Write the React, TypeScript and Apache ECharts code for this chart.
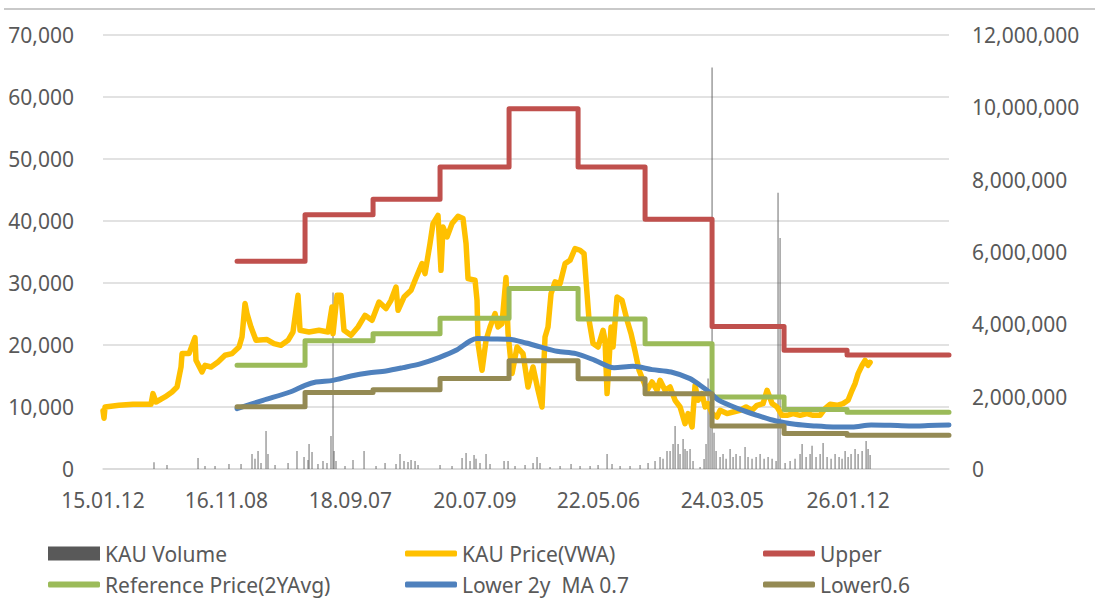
import React, { useEffect, useRef } from "react";
import * as echarts from "echarts";

// X axis: decimal years (date axis of the original chart)
const tickYears = [2015.0301, 2016.8525, 2018.6822, 2020.5191, 2022.3425, 2024.1749, 2026.0301];
const tickLabels = ["15.01.12", "16.11.08", "18.09.07", "20.07.09", "22.05.06", "24.03.05", "26.01.12"];
const axisEndYear = 2027.52;

// Yearly step lines
const stepYears = [2017.009, 2018.013, 2019.017, 2020.006, 2021.025, 2022.044, 2023.033, 2024.022, 2025.085, 2026.015, 2027.52];
const upperValues = [33500, 41000, 43500, 48700, 58100, 48700, 40300, 23000, 19150, 18400];
const referenceValues = [16750, 20700, 21800, 24300, 29100, 24200, 20200, 11600, 9600, 9150];
const lower06Values = [10050, 12350, 12800, 14580, 17450, 14550, 12150, 6950, 5720, 5460];

// KAU Price (VWA)
const priceYears = [
  2015.030, 2015.045, 2015.060, 2015.266, 2015.473, 2015.739, 2015.768, 2015.813, 2015.945, 2016.049,
  2016.123, 2016.182, 2016.197, 2016.300, 2016.388, 2016.403, 2016.492, 2016.536, 2016.625, 2016.728,
  2016.831, 2016.935, 2017.038, 2017.082, 2017.127, 2017.156, 2017.215, 2017.289, 2017.452, 2017.555,
  2017.658, 2017.762, 2017.835, 2017.909, 2017.939, 2018.072, 2018.219, 2018.352, 2018.411, 2018.426,
  2018.485, 2018.544, 2018.588, 2018.692, 2018.795, 2018.898, 2019.002, 2019.105, 2019.208, 2019.282,
  2019.356, 2019.386, 2019.474, 2019.578, 2019.637, 2019.740, 2019.784, 2019.858, 2019.902, 2019.976,
  2020.020, 2020.050, 2020.109, 2020.183, 2020.272, 2020.345, 2020.390, 2020.419, 2020.523, 2020.552,
  2020.567, 2020.626, 2020.685, 2020.744, 2020.818, 2020.862, 2020.921, 2020.980, 2021.010, 2021.069,
  2021.143, 2021.231, 2021.305, 2021.379, 2021.453, 2021.512, 2021.556, 2021.600, 2021.645, 2021.704,
  2021.778, 2021.852, 2021.925, 2021.999, 2022.073, 2022.132, 2022.176, 2022.206, 2022.265, 2022.339,
  2022.413, 2022.442, 2022.472, 2022.531, 2022.560, 2022.619, 2022.693, 2022.767, 2022.826, 2022.885,
  2022.944, 2023.003, 2023.062, 2023.136, 2023.210, 2023.254, 2023.328, 2023.402, 2023.476, 2023.550,
  2023.623, 2023.668, 2023.727, 2023.771, 2023.815, 2023.874, 2023.919, 2023.963, 2024.022, 2024.096,
  2024.140, 2024.243, 2024.332, 2024.435, 2024.524, 2024.612, 2024.686, 2024.775, 2024.834, 2024.908,
  2024.982, 2025.055, 2025.129, 2025.218, 2025.321, 2025.424, 2025.513, 2025.616, 2025.690, 2025.764,
  2025.867, 2025.956, 2026.030, 2026.089, 2026.133, 2026.178, 2026.237, 2026.281, 2026.325, 2026.355,
];
const priceValues = [
  9400, 8200, 10000, 10270, 10430, 10430, 12160, 10810, 11620, 12420,
  13230, 16450, 18610, 18610, 21190, 17530, 15650, 16730, 16450, 17260,
  18340, 18610, 19680, 21290, 26680, 25060, 22900, 20760, 20870, 20230,
  19950, 20760, 22100, 28020, 22370, 22100, 22370, 22100, 26130, 21840,
  28020, 28020, 22370, 21570, 22900, 24790, 23990, 26940, 25870, 27210,
  29360, 25600, 27740, 28820, 30440, 33130, 31520, 36360, 39580, 40920,
  32050, 39040, 37420, 39580, 40760, 40390, 36360, 30710, 30440, 27210,
  20230, 15920, 20760, 22900, 25060, 22900, 23450, 30870, 21840, 15390,
  19680, 18610, 13230, 16450, 12690, 10000, 21290, 22900, 28290, 30170,
  29900, 33130, 33660, 35550, 35280, 34740, 28290, 23990, 20230, 19680,
  22370, 20760, 12160, 22900, 19680, 27740, 27210, 24000, 21840, 19000,
  15920, 14310, 12690, 14030, 12690, 14310, 12690, 13230, 11080, 10000,
  7320, 8940, 6780, 13500, 11080, 12160, 10000, 10550, 8940, 8390,
  9470, 8940, 9190, 9470, 10000, 9470, 10270, 10550, 12690, 10550,
  10000, 8660, 8660, 8940, 8660, 8940, 8660, 8660, 9740, 10430,
  10270, 10550, 11080, 12690, 13770, 15390, 16730, 17530, 16730, 17200,
];

// Lower 2y MA 0.7
const maYears = [
  2017.009, 2017.392, 2017.791, 2018.013, 2018.175, 2018.426, 2018.692, 2018.943, 2019.208, 2019.460,
  2019.725, 2019.991, 2020.242, 2020.449, 2020.552, 2020.759, 2021.025, 2021.276, 2021.482, 2021.733,
  2022.014, 2022.294, 2022.575, 2022.855, 2023.136, 2023.417, 2023.697, 2023.845, 2023.978, 2024.125,
  2024.406, 2024.686, 2024.967, 2025.247, 2025.528, 2025.808, 2026.089, 2026.370, 2026.650, 2026.931,
  2027.211, 2027.52,
];
const maValues = [
  9740, 11080, 12420, 13500, 14030, 14300, 15000, 15490, 15810, 16350,
  17000, 17970, 19150, 20650, 21030, 20970, 20920, 20320, 19700, 19000,
  18610, 17530, 16350, 16560, 16030, 15650, 14580, 13500, 12420, 11080,
  9740, 8660, 7740, 7210, 6940, 6780, 6780, 7100, 7050, 6940,
  7000, 7100,
];

// KAU Volume
const volumeYears = [
  2015.783, 2015.975, 2016.433, 2016.536, 2016.684, 2016.890, 2017.068, 2017.230, 2017.274, 2017.319,
  2017.363, 2017.437, 2017.466, 2017.570, 2017.762, 2017.894, 2017.998, 2018.057, 2018.072, 2018.116,
  2018.204, 2018.278, 2018.337, 2018.396, 2018.426, 2018.441, 2018.470, 2018.603, 2018.721, 2018.884,
  2019.061, 2019.194, 2019.356, 2019.415, 2019.474, 2019.533, 2019.578, 2019.637, 2019.681, 2020.006,
  2020.183, 2020.331, 2020.390, 2020.449, 2020.508, 2020.537, 2020.596, 2020.685, 2020.744, 2020.951,
  2021.010, 2021.113, 2021.261, 2021.379, 2021.438, 2021.482, 2021.630, 2021.778, 2021.940, 2022.073,
  2022.221, 2022.339, 2022.472, 2022.545, 2022.664, 2022.811, 2022.959, 2023.077, 2023.180, 2023.254,
  2023.298, 2023.357, 2023.402, 2023.446, 2023.476, 2023.520, 2023.549, 2023.594, 2023.623, 2023.653,
  2023.697, 2023.741, 2023.845, 2023.904, 2023.933, 2023.963, 2023.992, 2024.022, 2024.051, 2024.081,
  2024.140, 2024.184, 2024.229, 2024.288, 2024.332, 2024.376, 2024.435, 2024.509, 2024.553, 2024.612,
  2024.672, 2024.731, 2024.790, 2024.849, 2024.908, 2024.967, 2024.996, 2025.026, 2025.100, 2025.174,
  2025.247, 2025.321, 2025.351, 2025.410, 2025.469, 2025.498, 2025.557, 2025.617, 2025.661, 2025.720,
  2025.779, 2025.838, 2025.897, 2025.941, 2025.986, 2026.030, 2026.074, 2026.133, 2026.178, 2026.237,
  2026.296, 2026.325, 2026.355,
];
const volumeValues = [
  185000, 110000, 305000, 80000, 80000, 140000, 140000, 415000, 280000, 500000,
  165000, 1050000, 415000, 110000, 165000, 500000, 330000, 250000, 690000, 470000,
  140000, 220000, 165000, 915000, 4880000, 500000, 220000, 85000, 250000, 500000,
  85000, 165000, 140000, 415000, 220000, 195000, 250000, 220000, 110000, 110000,
  85000, 305000, 445000, 220000, 390000, 280000, 165000, 415000, 140000, 220000,
  220000, 85000, 110000, 165000, 330000, 165000, 55000, 85000, 140000, 85000,
  85000, 110000, 415000, 140000, 85000, 85000, 110000, 165000, 220000, 330000,
  280000, 500000, 500000, 690000, 1190000, 690000, 415000, 830000, 555000, 500000,
  555000, 220000, 55000, 277000, 690000, 2500000, 1800000, 11100000, 1000000, 500000,
  330000, 415000, 280000, 555000, 330000, 415000, 360000, 610000, 330000, 280000,
  330000, 415000, 280000, 330000, 280000, 220000, 7640000, 6390000, 165000, 220000,
  280000, 415000, 690000, 330000, 415000, 640000, 330000, 415000, 720000, 330000,
  280000, 415000, 330000, 280000, 500000, 330000, 415000, 555000, 415000, 500000,
  775000, 555000, 390000,
];

const FONT = "'Noto Sans', 'DejaVu Sans', sans-serif";
const TEXT = "#595959";

function stepData(values: number[]) {
  const d: number[][] = values.map((v, i) => [stepYears[i], v]);
  d.push([stepYears[stepYears.length - 1], values[values.length - 1]]);
  return d;
}

function zip(xs: number[], ys: number[]) {
  return xs.map((x, i) => [x, ys[i]]);
}

const fmt = (v: number) => Math.round(v).toLocaleString("en-US");

function legendItem(name: string, left: number, top: number, isBox: boolean) {
  return {
    data: [name],
    left,
    top,
    padding: 0,
    icon: isBox ? "rect" : "roundRect",
    itemWidth: 52,
    itemHeight: isBox ? 14 : 6,
    itemStyle: { opacity: 1 },
    selectedMode: false,
    textStyle: { fontFamily: FONT, fontSize: 21, color: TEXT },
  };
}

export default function App() {
  const ref = useRef<HTMLDivElement>(null);
  useEffect(() => {
    if (!ref.current) return;
    const chart = echarts.init(ref.current, undefined, { renderer: "svg" });
    const lineCommon = (width: number) => ({
      type: "line" as const,
      symbol: "none",
      lineStyle: { width, cap: "round", join: "round" },
    });
    const option: any = {
      animation: false,
      backgroundColor: "#ffffff",
      textStyle: { fontFamily: FONT },
      grid: { left: 103, right: 146, top: 35, bottom: 130, containLabel: false },
      graphic: [
        { type: "rect", shape: { x: 4, y: 8, width: 1091, height: 2 }, style: { fill: "#c9c9c9" } },
      ],
      xAxis: {
        type: "value",
        min: tickYears[0],
        max: axisEndYear,
        axisLine: { show: true, lineStyle: { color: "#d9d9d9", width: 1.5 } },
        axisTick: { show: false },
        splitLine: { show: false },
        axisLabel: {
          customValues: tickYears,
          showMinLabel: true,
          showMaxLabel: true,
          hideOverlap: false,
          margin: 20,
          fontFamily: FONT,
          fontSize: 21,
          color: TEXT,
          formatter: (v: number) => {
            const i = tickYears.findIndex((t) => Math.abs(t - v) < 0.01);
            return i >= 0 ? tickLabels[i] : "";
          },
        },
      },
      yAxis: [
        {
          type: "value",
          min: 0,
          max: 70000,
          interval: 10000,
          axisLine: { show: false },
          axisTick: { show: false },
          splitLine: { show: true, lineStyle: { color: "#d9d9d9", width: 1.5 } },
          axisLabel: { margin: 29, fontFamily: FONT, fontSize: 21, color: TEXT, formatter: fmt },
        },
        {
          type: "value",
          position: "right",
          min: 0,
          max: 12000000,
          interval: 2000000,
          axisLine: { show: false },
          axisTick: { show: false },
          splitLine: { show: false },
          axisLabel: { margin: 23, fontFamily: FONT, fontSize: 21, color: TEXT, formatter: fmt },
        },
      ],
      legend: [
        legendItem("KAU Volume", 48, 543, true),
        legendItem("KAU Price(VWA)", 405, 543, false),
        legendItem("Upper", 763, 543, false),
        legendItem("Reference Price(2YAvg)", 48, 574, false),
        legendItem("Lower 2y  MA 0.7", 405, 574, false),
        legendItem("Lower0.6", 763, 574, false),
      ],
      series: [
        {
          name: "KAU Volume",
          type: "bar",
          yAxisIndex: 1,
          barWidth: 1.1,
          itemStyle: { color: "#595959", opacity: 0.8 },
          data: zip(volumeYears, volumeValues),
        },
        {
          ...lineCommon(5.5),
          name: "KAU Price(VWA)",
          color: "#FFC000",
          data: zip(priceYears, priceValues),
        },
        {
          ...lineCommon(5),
          name: "Upper",
          color: "#C0504D",
          step: "end",
          data: stepData(upperValues),
        },
        {
          ...lineCommon(5),
          name: "Reference Price(2YAvg)",
          color: "#9BBB59",
          step: "end",
          data: stepData(referenceValues),
        },
        {
          ...lineCommon(5),
          name: "Lower 2y  MA 0.7",
          color: "#4F81BD",
          smooth: 0.3,
          data: zip(maYears, maValues),
        },
        {
          ...lineCommon(5),
          name: "Lower0.6",
          color: "#948A54",
          step: "end",
          data: stepData(lower06Values),
        },
      ],
    };
    chart.setOption(option);
    return () => chart.dispose();
  }, []);
  return (
    <div
      ref={ref}
      style={{ position: "absolute", left: 0, top: 0, width: 1095, height: 599, background: "#ffffff" }}
    />
  );
}
